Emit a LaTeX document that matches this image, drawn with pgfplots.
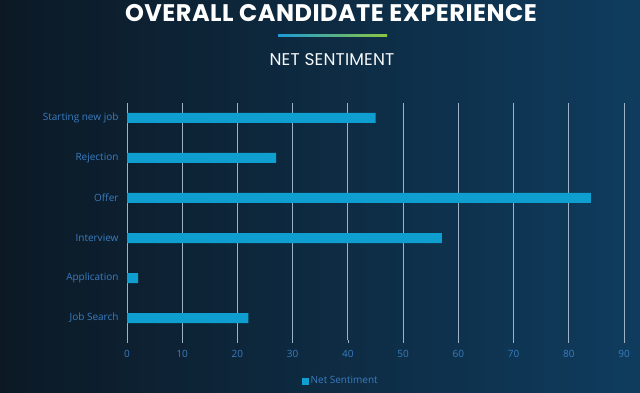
\documentclass[border=0pt]{standalone}
\usepackage{pgfplots}
\pgfplotsset{compat=1.18}
\usepackage{fontspec}
\setmainfont{Open Sans}
\newfontfamily\titlefont{Poppins}[LetterSpace=2]
\newfontfamily\subfont{Poppins}[LetterSpace=1]
\definecolor{bgl}{HTML}{0C1925}
\definecolor{bgr}{HTML}{0F3C5E}
\definecolor{barc}{HTML}{0E9ECF}
\definecolor{gridc}{HTML}{9DB2C4}
\definecolor{labc}{HTML}{3A7CBF}
\definecolor{lineb}{HTML}{1E9BD7}
\definecolor{lineg}{HTML}{8CC63F}
\begin{document}
\begin{tikzpicture}
\useasboundingbox (0pt,0pt) rectangle (640pt,392pt);
\shade[left color=bgl, right color=bgr] (0pt,0pt) rectangle (640pt,392pt);
\node[font=\titlefont\bfseries\fontsize{24}{24}\selectfont, text=white] at (331pt,379pt) {OVERALL CANDIDATE EXPERIENCE};
\shade[left color=lineb, right color=lineg] (278pt,355pt) rectangle (387pt,357.5pt);
\node[font=\subfont\fontsize{17}{17}\selectfont, text=white!90!gridc] at (332pt,332pt) {NET SENTIMENT};
\begin{axis}[
  at={(127pt,52pt)}, anchor=south west,
  scale only axis, width=497pt, height=237pt,
  xbar, bar width=10pt,
  xmin=0, xmax=90, ymin=-0.55, ymax=5.375,
  xtick={0,10,...,90},
  ytick={0,1,2,3,4,5},
  yticklabels={Job Search,Application,Interview,Offer,Rejection,Starting new job},
  axis line style={draw=none},
  xmajorgrids, major grid style={gridc, line width=0.8pt},
  xtick pos=bottom, ytick style={draw=none},
  x tick style={gridc, line width=0.6pt}, tick align=outside, major tick length=3pt,
  xticklabel style={font=\fontsize{10}{10}\selectfont, text=labc, yshift=-4pt},
  yticklabel style={font=\fontsize{10}{10}\selectfont, text=labc, xshift=-2pt},
  /pgf/number format/assume math mode=true,
  legend style={at={(0.43,-0.173)}, anchor=center, draw=none, fill=none, font=\fontsize{10}{10}\selectfont, text=labc},
  legend image code/.code={\fill[barc] (-3pt,-3.5pt) rectangle (4pt,3.5pt);},
]
\addplot[draw=none, fill=barc] coordinates {(22,0) (2,1) (57,2) (84,3) (27,4) (45,5)};
\addlegendentry{Net Sentiment}
\end{axis}
\end{tikzpicture}
\end{document}
